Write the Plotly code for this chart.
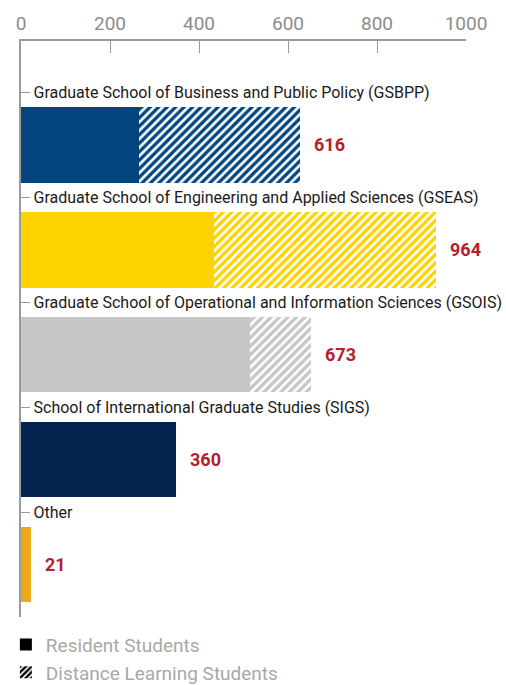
import plotly.graph_objects as go

schools = [
    "Graduate School of Business and Public Policy (GSBPP)",
    "Graduate School of Engineering and Applied Sciences (GSEAS)",
    "Graduate School of Operational and Information Sciences (GSOIS)",
    "School of International Graduate Studies (SIGS)",
    "Other",
]
resident = [265, 433, 514, 348, 22]
distance = [362, 499, 137, 0, 0]
total_labels = [616, 964, 673, 360, 21]
colors = ["#03457f", "#fed300", "#c4c6c8", "#02244f", "#eda81c"]
x_ticks = [0, 200, 400, 600, 800, 1000]

FONT = "Roboto"
pos = list(range(len(schools)))

fig = go.Figure()
fig.add_trace(go.Bar(
    y=pos, x=resident, orientation="h", marker=dict(color=colors, line=dict(width=0)),
    showlegend=False, hoverinfo="skip",
))
fig.add_trace(go.Bar(
    y=pos, x=distance, orientation="h",
    marker=dict(color="white", line=dict(width=0),
                pattern=dict(shape="/", fgcolor=colors, bgcolor="white", size=6,
                             solidity=0.55, fgopacity=1)),
    showlegend=False, hoverinfo="skip",
))
# legend entries
fig.add_trace(go.Bar(y=[None], x=[None], orientation="h", name="Resident Students",
                     marker=dict(color="black", line=dict(width=0))))
fig.add_trace(go.Bar(y=[None], x=[None], orientation="h", name="Distance Learning Students",
                     marker=dict(color="white", line=dict(width=0),
                                 pattern=dict(shape="/", fgcolor="black", bgcolor="white",
                                              size=5, solidity=0.6, fgopacity=1))))

for i, (r, d, lab) in enumerate(zip(resident, distance, total_labels)):
    fig.add_annotation(x=r + d, y=i, text=f"<b>{lab}</b>", xanchor="left", xshift=12,
                       showarrow=False, font=dict(family=FONT, size=18, color="#b5202b"))

fig.update_layout(
    width=506, height=685,
    margin=dict(l=21, r=40, t=41, b=68, autoexpand=False),
    paper_bgcolor="white", plot_bgcolor="white",
    barmode="stack", bargap=0.28,
    font=dict(family=FONT),
    xaxis=dict(side="top", range=[0, 1000], tickvals=x_ticks, ticks="inside", ticklen=12,
               tickcolor="#9a9a9a", showline=True, linecolor="#9a9a9a", linewidth=1.5,
               showgrid=False, zeroline=False, tickfont=dict(size=19, color="#8c8c8c", family=FONT),
               ticklabelstandoff=2,
               ticklabeloverflow="allow", automargin=False, showticklabels=True, fixedrange=True),
    yaxis=dict(range=[4.5, -0.99], tickvals=[i - 0.5 for i in pos] + [len(pos) - 0.5],
               ticktext=schools + [""], ticks="inside", ticklen=9, tickcolor="#9a9a9a",
               ticklabelposition="inside", ticklabelstandoff=4, ticklabeloverflow="allow",
               automargin=False,
               showline=True, linecolor="#9a9a9a", linewidth=1.5, showgrid=False, zeroline=False,
               tickfont=dict(size=16, color="#1a1a1a", family=FONT), fixedrange=True),
    legend=dict(x=-0.034, y=-0.015, xanchor="left", yanchor="top", orientation="v",
                traceorder="normal",
                font=dict(size=19, color="#a8a8a8", family=FONT), tracegroupgap=0,
                itemwidth=30, bgcolor="rgba(0,0,0,0)"),
    showlegend=True,
)

# remove the browser's default body margin so the figure fills the window exactly
fig.write_html("out.html", config={"displayModeBar": False},
               post_script="document.body.style.margin='0';")
